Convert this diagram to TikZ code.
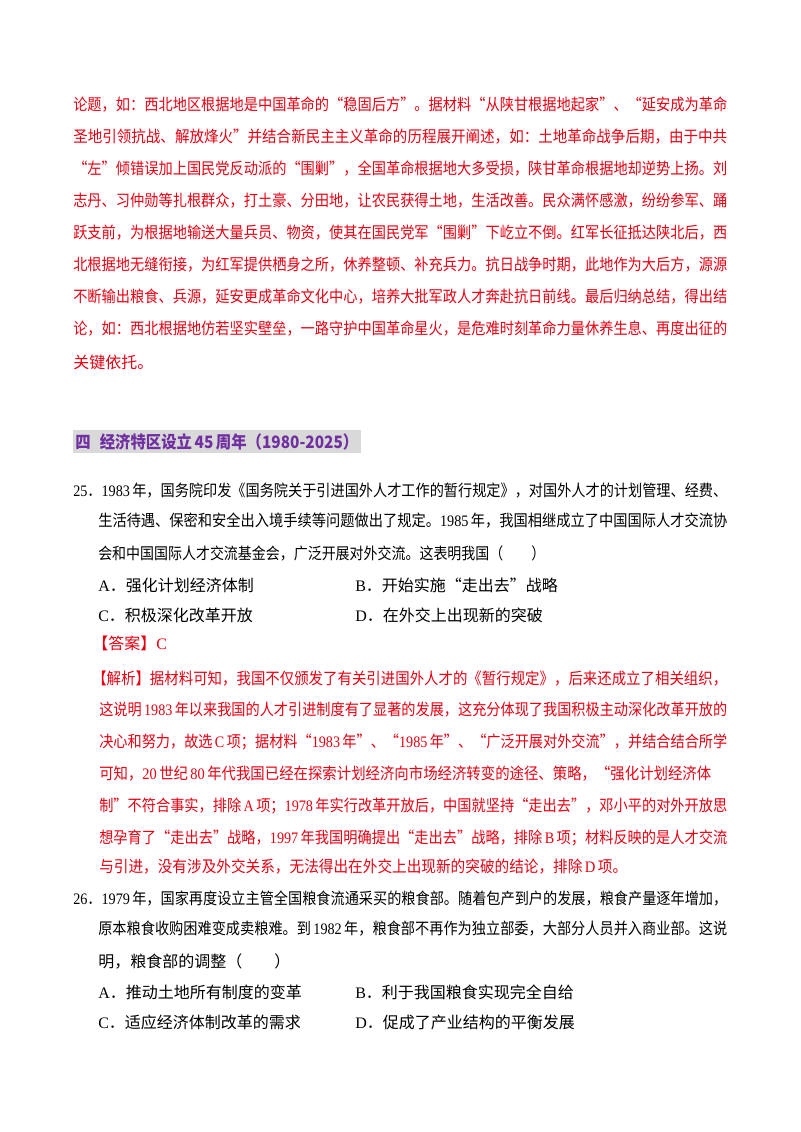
\documentclass[tikz,border=0pt]{standalone}
\usepackage{graphicx}
\usepackage{fontspec}
\setmainfont{Noto Sans CJK SC}
\newfontfamily\latf{Liberation Serif}
\newcommand{\lt}[1]{{\latf #1}}
\newcommand{\fl}[2]{\resizebox{#1\dimexpr 0.75pt\relax}{\height}{#2}}
\definecolor{ans}{RGB}{230,0,18}
\definecolor{hd}{RGB}{112,48,160}
\begin{document}
\begin{tikzpicture}[x=0.75pt,y=-0.75pt,
  red/.style={anchor=west,inner sep=0,text=ans,font=\fontsize{12pt}{14pt}\selectfont},
  q/.style={anchor=west,inner sep=0,text=black,font=\fontsize{12pt}{14pt}\selectfont}]
\useasboundingbox (0,0) rectangle (800,1132);
\fill[white] (0,0) rectangle (800,1132);
\node[red] (r1) at (73,105) {\fl{654}{论题，如：西北地区根据地是中国革命的“稳固后方”。据材料“从陕甘根据地起家”、“延安成为革命}};
\node[red] (r2) at (73,137) {\fl{654}{圣地引领抗战、解放烽火”并结合新民主主义革命的历程展开阐述，如：土地革命战争后期，由于中共}};
\node[red] (r3) at (73,169) {\fl{654}{“左”倾错误加上国民党反动派的“围剿”，全国革命根据地大多受损，陕甘革命根据地却逆势上扬。刘}};
\node[red] (r4) at (73,201) {\fl{654}{志丹、习仲勋等扎根群众，打土豪、分田地，让农民获得土地，生活改善。民众满怀感激，纷纷参军、踊}};
\node[red] (r5) at (73,233) {\fl{654}{跃支前，为根据地输送大量兵员、物资，使其在国民党军“围剿”下屹立不倒。红军长征抵达陕北后，西}};
\node[red] (r6) at (73,265) {\fl{654}{北根据地无缝衔接，为红军提供栖身之所，休养整顿、补充兵力。抗日战争时期，此地作为大后方，源源}};
\node[red] (r7) at (73,297) {\fl{654}{不断输出粮食、兵源，延安更成革命文化中心，培养大批军政人才奔赴抗日前线。最后归纳总结，得出结}};
\node[red] (r8) at (73,329) {\fl{654}{论，如：西北根据地仿若坚实壁垒，一路守护中国革命星火，是危难时刻革命力量休养生息、再度出征的}};
\node[red] (r9) at (73,362) {关键依托。};
\fill[black!15] (73,430) rectangle (361,453);
\node[anchor=west,inner sep=0,text=hd,font=\fontsize{12.8pt}{14pt}\selectfont\bfseries] (h) at (75,441.5) {\fl{283}{四\hspace{0.6em}经济特区设立\,45\,周年（1980-2025）}};
\node[q] (a1) at (73,491) {\fl{654}{\lt{25}．\lt{1983}\,年，国务院印发《国务院关于引进国外人才工作的暂行规定》，对国外人才的计划管理、经费、}};
\node[q] (a2) at (98,521) {\fl{629}{生活待遇、保密和安全出入境手续等问题做出了规定。\lt{1985}\,年，我国相继成立了中国国际人才交流协}};
\node[q] (a3) at (98,553) {\fl{447}{会和中国国际人才交流基金会，广泛开展对外交流。这表明我国（\qquad）}};
\node[q] (a4) at (98,585) {\lt{A}．强化计划经济体制};
\node[q] (a5) at (355,585) {\lt{B}．开始实施“走出去”战略};
\node[q] (a6) at (98,615) {\lt{C}．积极深化改革开放};
\node[q] (a7) at (355,615) {\lt{D}．在外交上出现新的突破};
\node[red] (k) at (92,643) {【答案】\lt{C}};
\node[red] (j1) at (92,679) {\fl{635}{【解析】据材料可知，我国不仅颁发了有关引进国外人才的《暂行规定》，后来还成立了相关组织，}};
\node[red] (j2) at (99,710) {\fl{628}{这说明\,\lt{1983}\,年以来我国的人才引进制度有了显著的发展，这充分体现了我国积极主动深化改革开放的}};
\node[red] (j3) at (99,742) {\fl{628}{决心和努力，故选\,\lt{C}\,项；据材料“\lt{1983}\,年”、“\lt{1985}\,年”、“广泛开展对外交流”，并结合结合所学}};
\node[red] (j4) at (99,774) {\fl{612}{可知，\lt{20}\,世纪\,\lt{80}\,年代我国已经在探索计划经济向市场经济转变的途径、策略，“强化计划经济体}};
\node[red] (j5) at (99,806) {\fl{628}{制”不符合事实，排除\,\lt{A}\,项；\lt{1978}\,年实行改革开放后，中国就坚持“走出去”，邓小平的对外开放思}};
\node[red] (j6) at (99,838) {\fl{628}{想孕育了“走出去”战略，\lt{1997}\,年我国明确提出“走出去”战略，排除\,\lt{B}\,项；材料反映的是人才交流}};
\node[red] (j7) at (99,867) {\fl{528}{与引进，没有涉及外交关系，无法得出在外交上出现新的突破的结论，排除\,\lt{D}\,项。}};
\node[q] (b1) at (73,899) {\fl{654}{\lt{26}．\lt{1979}\,年，国家再度设立主管全国粮食流通采买的粮食部。随着包产到户的发展，粮食产量逐年增加，}};
\node[q] (b2) at (98,929) {\fl{629}{原本粮食收购困难变成卖粮难。到\,\lt{1982}\,年，粮食部不再作为独立部委，大部分人员并入商业部。这说}};
\node[q] (b3) at (98,961) {明，粮食部的调整（\qquad）};
\node[q] (b4) at (98,992) {\lt{A}．推动土地所有制度的变革};
\node[q] (b5) at (355,992) {\lt{B}．利于我国粮食实现完全自给};
\node[q] (b6) at (98,1022) {\lt{C}．适应经济体制改革的需求};
\node[q] (b7) at (355,1022) {\lt{D}．促成了产业结构的平衡发展};
\end{tikzpicture}
\end{document}
